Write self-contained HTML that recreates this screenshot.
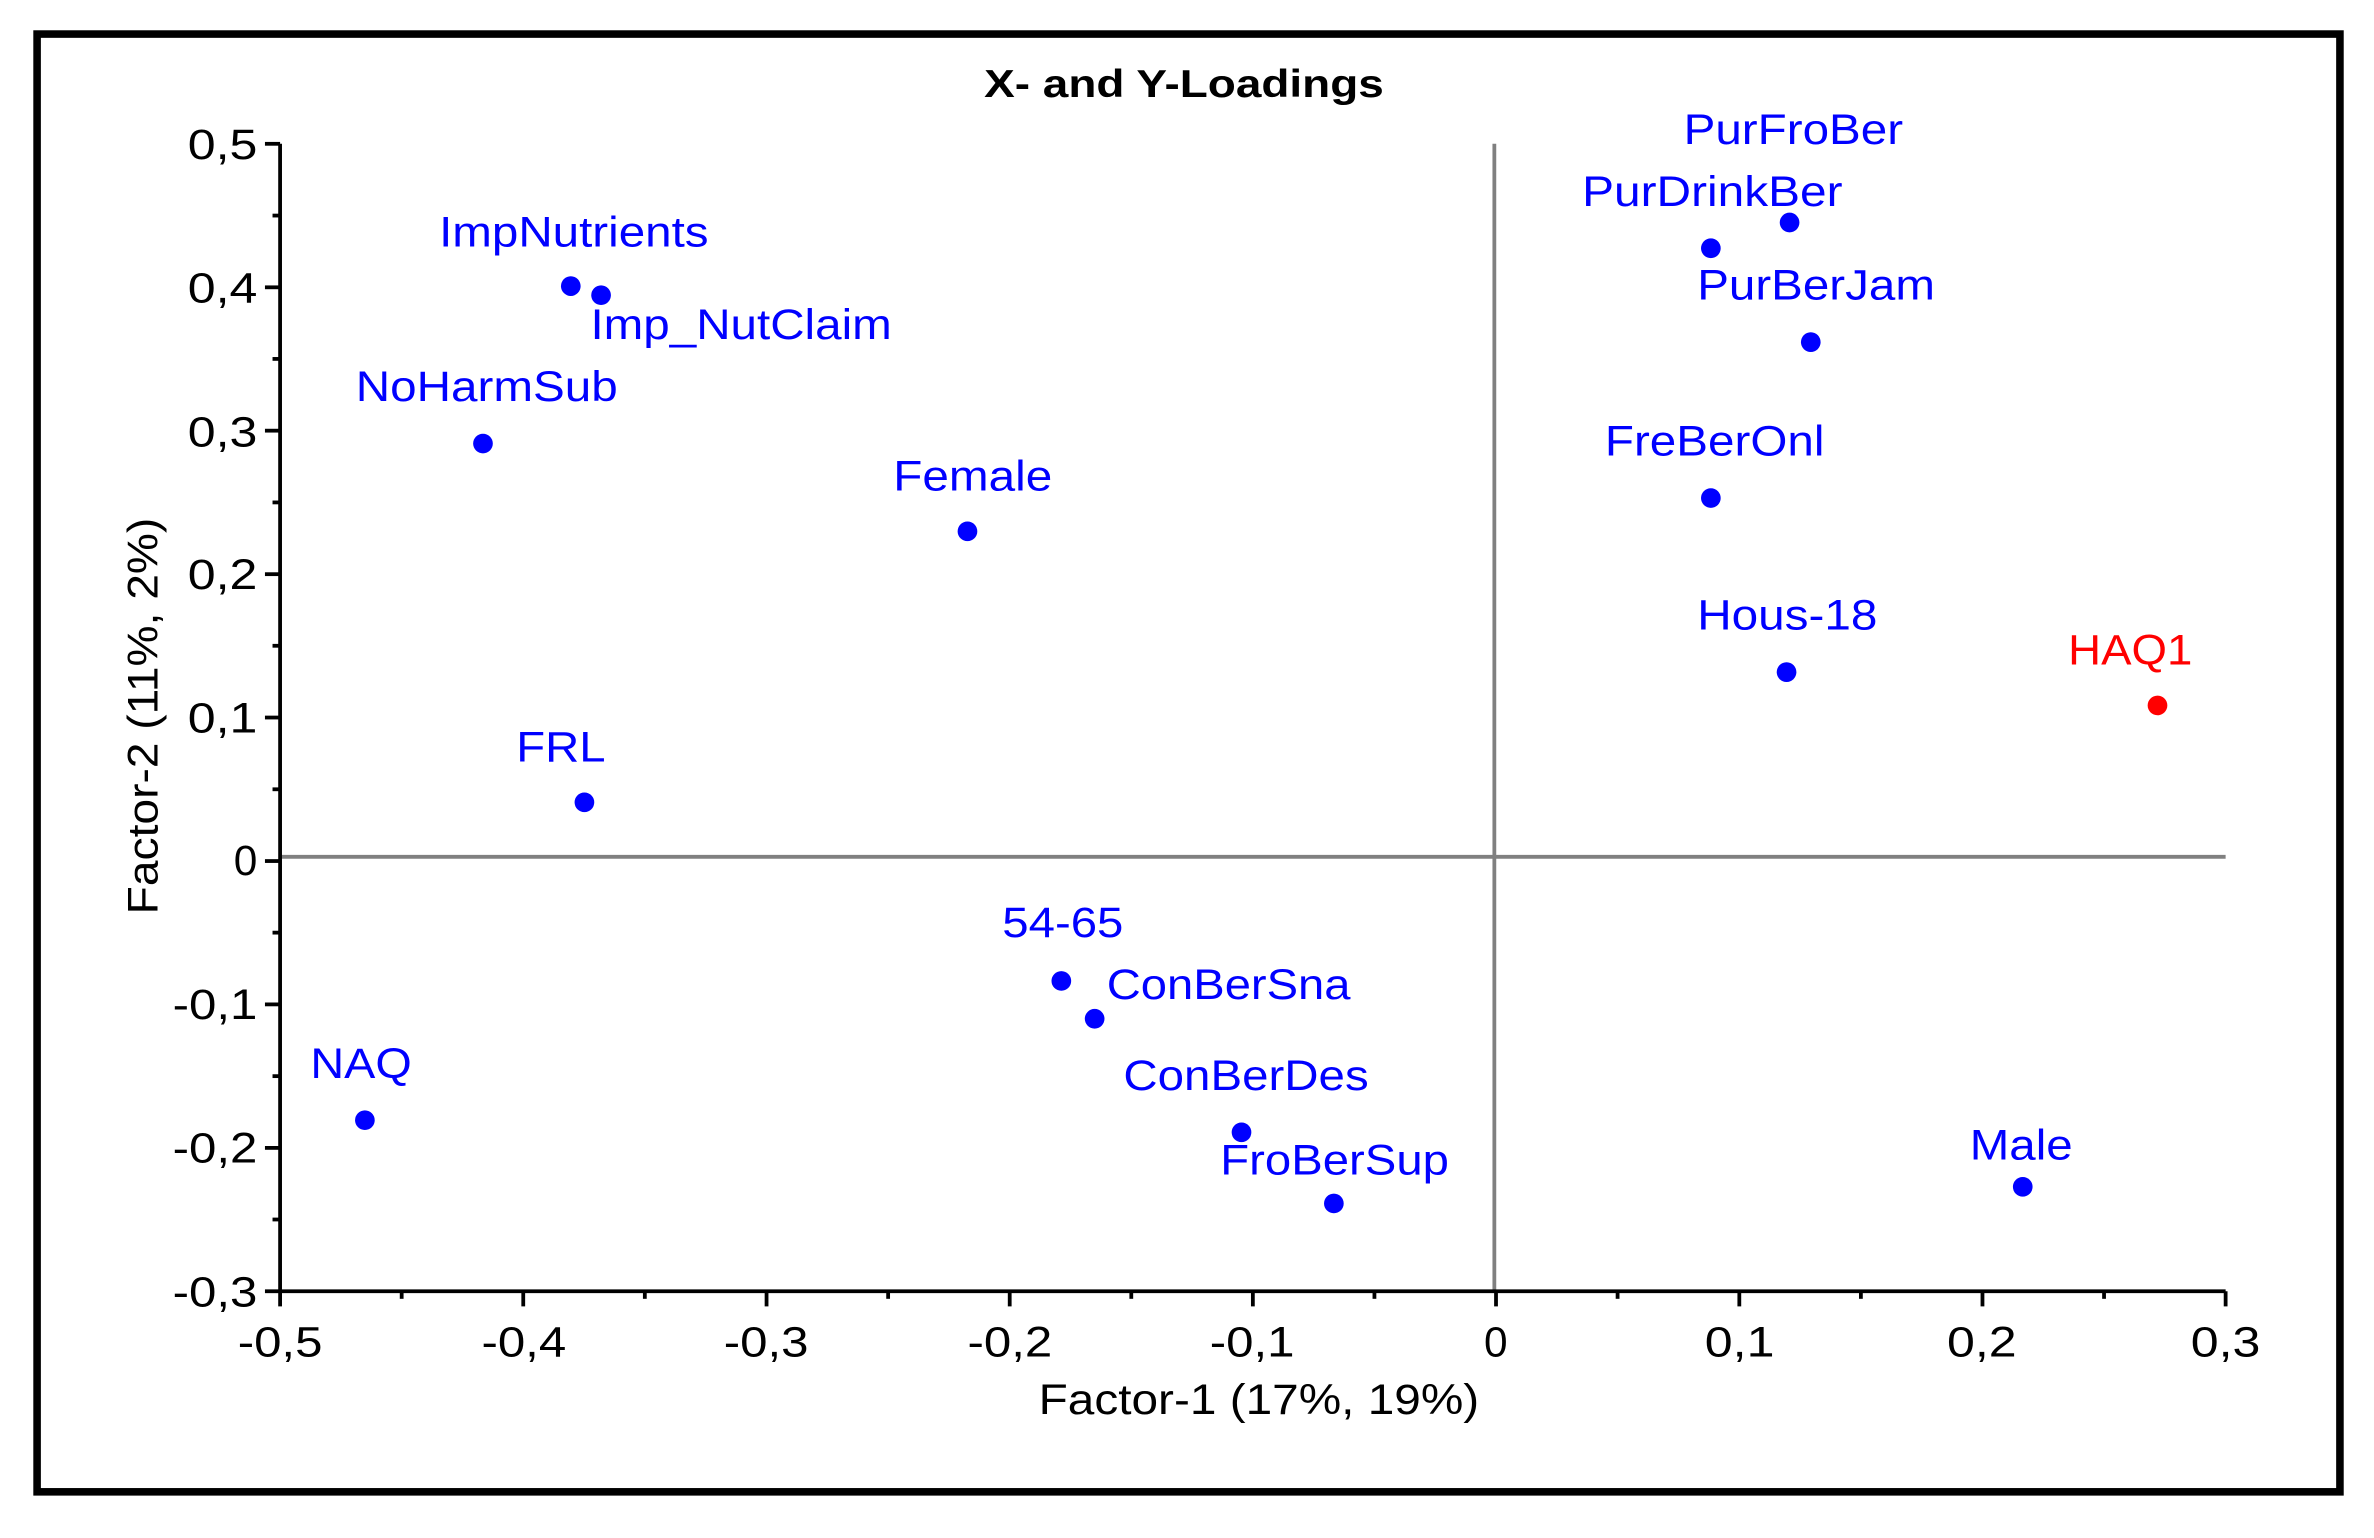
<!DOCTYPE html>
<html><head><meta charset="utf-8"><style>html,body{margin:0;padding:0;background:#fff}svg{display:block}</style></head>
<body>
<svg width="2374" height="1538" viewBox="0 0 1568 1016" preserveAspectRatio="none" xmlns="http://www.w3.org/2000/svg" font-family="Liberation Sans, Arial, sans-serif">
<rect x="0" y="0" width="1568" height="1016" fill="#fff"/>
<rect x="24.5" y="22.5" width="1521" height="963" fill="none" stroke="#000" stroke-width="5"/>
<text x="782" y="64" font-size="26" font-weight="bold" text-anchor="middle" textLength="264" lengthAdjust="spacingAndGlyphs">X- and Y-Loadings</text>
<line x1="987" y1="95" x2="987" y2="853" stroke="#808080" stroke-width="2.5"/>
<line x1="185" y1="566" x2="1470" y2="566" stroke="#808080" stroke-width="2.5"/>
<g stroke="#000" stroke-width="2.5">
<line x1="185" y1="95" x2="185" y2="853"/>
<line x1="185" y1="853" x2="1470" y2="853"/>
<line x1="175" y1="95" x2="185" y2="95"/><line x1="180" y1="142.4" x2="185" y2="142.4"/>
<line x1="175" y1="189.8" x2="185" y2="189.8"/><line x1="180" y1="237.1" x2="185" y2="237.1"/>
<line x1="175" y1="284.5" x2="185" y2="284.5"/><line x1="180" y1="331.9" x2="185" y2="331.9"/>
<line x1="175" y1="379.3" x2="185" y2="379.3"/><line x1="180" y1="426.6" x2="185" y2="426.6"/>
<line x1="175" y1="474" x2="185" y2="474"/><line x1="180" y1="521.4" x2="185" y2="521.4"/>
<line x1="175" y1="568.8" x2="185" y2="568.8"/><line x1="180" y1="616.1" x2="185" y2="616.1"/>
<line x1="175" y1="663.5" x2="185" y2="663.5"/><line x1="180" y1="710.9" x2="185" y2="710.9"/>
<line x1="175" y1="758.3" x2="185" y2="758.3"/><line x1="180" y1="805.6" x2="185" y2="805.6"/>
<line x1="175" y1="853" x2="185" y2="853"/>
<line x1="185" y1="853" x2="185" y2="863"/><line x1="265.3" y1="853" x2="265.3" y2="858"/>
<line x1="345.6" y1="853" x2="345.6" y2="863"/><line x1="425.9" y1="853" x2="425.9" y2="858"/>
<line x1="506.3" y1="853" x2="506.3" y2="863"/><line x1="586.6" y1="853" x2="586.6" y2="858"/>
<line x1="666.9" y1="853" x2="666.9" y2="863"/><line x1="747.2" y1="853" x2="747.2" y2="858"/>
<line x1="827.5" y1="853" x2="827.5" y2="863"/><line x1="907.8" y1="853" x2="907.8" y2="858"/>
<line x1="988.1" y1="853" x2="988.1" y2="863"/><line x1="1068.4" y1="853" x2="1068.4" y2="858"/>
<line x1="1148.8" y1="853" x2="1148.8" y2="863"/><line x1="1229.1" y1="853" x2="1229.1" y2="858"/>
<line x1="1309.4" y1="853" x2="1309.4" y2="863"/><line x1="1389.7" y1="853" x2="1389.7" y2="858"/>
<line x1="1470" y1="853" x2="1470" y2="863"/>
</g>
<g font-size="28" text-anchor="end" fill="#000">
<text x="170" y="105" textLength="46" lengthAdjust="spacingAndGlyphs">0,5</text>
<text x="170" y="200" textLength="46" lengthAdjust="spacingAndGlyphs">0,4</text>
<text x="170" y="295" textLength="46" lengthAdjust="spacingAndGlyphs">0,3</text>
<text x="170" y="389" textLength="46" lengthAdjust="spacingAndGlyphs">0,2</text>
<text x="170" y="484" textLength="46" lengthAdjust="spacingAndGlyphs">0,1</text>
<text x="170" y="578">0</text>
<text x="170" y="673" textLength="56" lengthAdjust="spacingAndGlyphs">-0,1</text>
<text x="170" y="768" textLength="56" lengthAdjust="spacingAndGlyphs">-0,2</text>
<text x="170" y="863" textLength="56" lengthAdjust="spacingAndGlyphs">-0,3</text>
</g>
<g font-size="28" text-anchor="middle" fill="#000">
<text x="185" y="896" textLength="56" lengthAdjust="spacingAndGlyphs">-0,5</text>
<text x="346" y="896" textLength="56" lengthAdjust="spacingAndGlyphs">-0,4</text>
<text x="506" y="896" textLength="56" lengthAdjust="spacingAndGlyphs">-0,3</text>
<text x="667" y="896" textLength="56" lengthAdjust="spacingAndGlyphs">-0,2</text>
<text x="827" y="896" textLength="56" lengthAdjust="spacingAndGlyphs">-0,1</text>
<text x="988" y="896">0</text>
<text x="1149" y="896" textLength="46" lengthAdjust="spacingAndGlyphs">0,1</text>
<text x="1309" y="896" textLength="46" lengthAdjust="spacingAndGlyphs">0,2</text>
<text x="1470" y="896" textLength="46" lengthAdjust="spacingAndGlyphs">0,3</text>
</g>
<text x="686" y="934" font-size="28" textLength="291" lengthAdjust="spacingAndGlyphs">Factor-1 (17%, 19%)</text>
<text transform="translate(104,604) rotate(-90)" font-size="28" textLength="262" lengthAdjust="spacingAndGlyphs">Factor-2 (11%, 2%)</text>
<g fill="#0000ff">
<circle cx="377" cy="189" r="6.5"/><circle cx="397" cy="195" r="6.5"/><circle cx="319" cy="293" r="6.5"/>
<circle cx="639" cy="351" r="6.5"/><circle cx="386" cy="530" r="6.5"/><circle cx="241" cy="740" r="6.5"/>
<circle cx="701" cy="648" r="6.5"/><circle cx="723" cy="673" r="6.5"/><circle cx="820" cy="748" r="6.5"/>
<circle cx="881" cy="795" r="6.5"/><circle cx="1336" cy="784" r="6.5"/><circle cx="1180" cy="444" r="6.5"/>
<circle cx="1130" cy="329" r="6.5"/><circle cx="1196" cy="226" r="6.5"/><circle cx="1130" cy="164" r="6.5"/>
<circle cx="1182" cy="147" r="6.5"/>
</g>
<circle cx="1425" cy="466" r="6.5" fill="#ff0000"/>
<g font-size="28" fill="#0000ff">
<text x="290" y="163" textLength="178" lengthAdjust="spacingAndGlyphs">ImpNutrients</text>
<text x="390" y="224" textLength="199" lengthAdjust="spacingAndGlyphs">Imp_NutClaim</text>
<text x="235" y="265" textLength="173" lengthAdjust="spacingAndGlyphs">NoHarmSub</text>
<text x="590" y="324" textLength="105" lengthAdjust="spacingAndGlyphs">Female</text>
<text x="341" y="503" textLength="59" lengthAdjust="spacingAndGlyphs">FRL</text>
<text x="205" y="712" textLength="67" lengthAdjust="spacingAndGlyphs">NAQ</text>
<text x="662" y="619" textLength="80" lengthAdjust="spacingAndGlyphs">54-65</text>
<text x="731" y="660" textLength="161" lengthAdjust="spacingAndGlyphs">ConBerSna</text>
<text x="742" y="720" textLength="162" lengthAdjust="spacingAndGlyphs">ConBerDes</text>
<text x="806" y="776" textLength="151" lengthAdjust="spacingAndGlyphs">FroBerSup</text>
<text x="1301" y="766" textLength="68" lengthAdjust="spacingAndGlyphs">Male</text>
<text x="1121" y="416" textLength="119" lengthAdjust="spacingAndGlyphs">Hous-18</text>
<text x="1060" y="301" textLength="145" lengthAdjust="spacingAndGlyphs">FreBerOnl</text>
<text x="1121" y="198" textLength="157" lengthAdjust="spacingAndGlyphs">PurBerJam</text>
<text x="1045" y="136" textLength="172" lengthAdjust="spacingAndGlyphs">PurDrinkBer</text>
<text x="1112" y="95" textLength="145" lengthAdjust="spacingAndGlyphs">PurFroBer</text>
</g>
<text x="1366" y="439" font-size="28" fill="#ff0000" textLength="82" lengthAdjust="spacingAndGlyphs">HAQ1</text>
</svg>
</body></html>
